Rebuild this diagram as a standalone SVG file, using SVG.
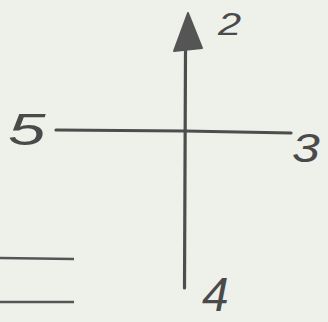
<svg xmlns="http://www.w3.org/2000/svg" width="328" height="322" viewBox="0 0 328 322">
<style>
.ink{stroke:#4d4d4d;stroke-width:3.2;fill:none;stroke-linecap:round}
.lbl{font-family:"Liberation Sans",Arial,sans-serif;fill:#4a4a4a;font-style:italic}
.rule{stroke:#555;stroke-width:2.5}
</style>
<rect width="328" height="322" fill="#eef0ea"/>
<g id="connectors">
<path class="ink" d="M185.5 50 L184.5 288"/>
<polygon points="188,13 174,51 202,48" fill="#555" stroke="#555" stroke-width="2" stroke-linejoin="round"/>
<path class="ink" d="M56 130 L185 131 L291 133"/>
</g>
<g id="rules">
<line class="rule" x1="0" y1="258" x2="74" y2="259"/>
<line class="rule" x1="0" y1="302" x2="74" y2="302"/>
</g>
<g id="label-2"><text class="lbl" x="218" y="35" font-size="32" transform="translate(218 35) scale(1.3 1) translate(-218 -35)">2</text></g>
<g id="label-5"><text class="lbl" x="8" y="145" font-size="45" transform="translate(8 145) scale(1.5 1) translate(-8 -145)">5</text></g>
<g id="label-3"><text class="lbl" x="292" y="162" font-size="40" transform="translate(292 162) scale(1.25 1) translate(-292 -162)">3</text></g>
<g id="label-4"><text class="lbl" x="202" y="311" font-size="48">4</text></g>
</svg>
